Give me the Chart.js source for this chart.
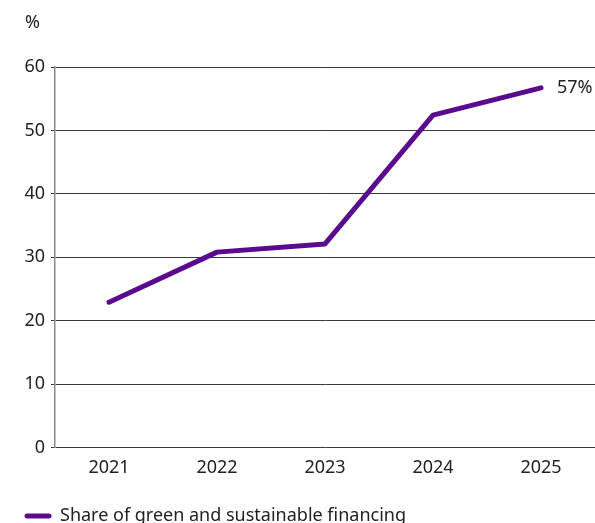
<!DOCTYPE html>
<html>
<head>
<meta charset="utf-8">
<script src="https://cdn.jsdelivr.net/npm/chart.js@4"></script>
<style>
  body { margin: 0; background: #fff; }
  #wrap { width: 595px; height: 523px; position: relative; }
</style>
</head>
<body>
<div id="wrap"><canvas id="chart"></canvas></div>
<script>
const years = ["2021", "2022", "2023", "2024", "2025"];
const greenShare = [22.9, 30.8, 32.1, 52.4, 56.7];
const lastLabel = "57%";
const yTicks = [0, 10, 20, 30, 40, 50, 60];

const purple = "#5a0a8f";
const textColor = "#222";
const font = { family: "Noto Sans", size: 18 };

// unit label, value label at the last point, and the legend row at the bottom
const extraText = {
  id: "extraText",
  afterDatasetsDraw(chart) {
    const ctx = chart.ctx;
    const ds = chart.data.datasets[0];
    ctx.save();
    ctx.font = "18px 'Noto Sans'";
    ctx.fillStyle = textColor;
    ctx.textBaseline = "middle";
    ctx.textAlign = "left";
    ctx.fillText("%", 25, 23);

    const pts = chart.getDatasetMeta(0).data;
    const last = pts[pts.length - 1];
    ctx.fillText(lastLabel, last.x + 16, last.y);

    const ly = 516;
    ctx.strokeStyle = ds.borderColor;
    ctx.lineWidth = 5;
    ctx.lineCap = "round";
    ctx.beginPath();
    ctx.moveTo(27, ly);
    ctx.lineTo(49, ly);
    ctx.stroke();
    ctx.fillText(ds.label, 60, ly);
    ctx.restore();
  }
};

new Chart(document.getElementById("chart"), {
  type: "line",
  data: {
    labels: years,
    datasets: [{
      label: "Share of green and sustainable financing",
      data: greenShare,
      borderColor: purple,
      backgroundColor: purple,
      borderWidth: 5,
      borderCapStyle: "round",
      borderJoinStyle: "round",
      pointRadius: 0,
      tension: 0
    }]
  },
  options: {
    responsive: true,
    maintainAspectRatio: false,
    animation: false,
    layout: { padding: { top: 67, right: 0, left: 0, bottom: 34 } },
    plugins: {
      tooltip: { enabled: false },
      legend: { display: false }
    },
    scales: {
      x: {
        offset: true,
        grid: { display: false, drawTicks: false },
        border: { display: false },
        ticks: { color: textColor, font: font, padding: 10 }
      },
      y: {
        min: 0,
        max: 60,
        afterBuildTicks(scale) {
          scale.ticks = yTicks.map(v => ({ value: v }));
        },
        afterFit(scale) { scale.width = 55; },
        grid: { color: "#3a3a3a", lineWidth: 1, tickLength: 4 },
        border: { display: true, color: "#888", width: 1.5 },
        ticks: { color: textColor, font: font, padding: 6 }
      }
    }
  },
  plugins: [extraText]
});
</script>
</body>
</html>
